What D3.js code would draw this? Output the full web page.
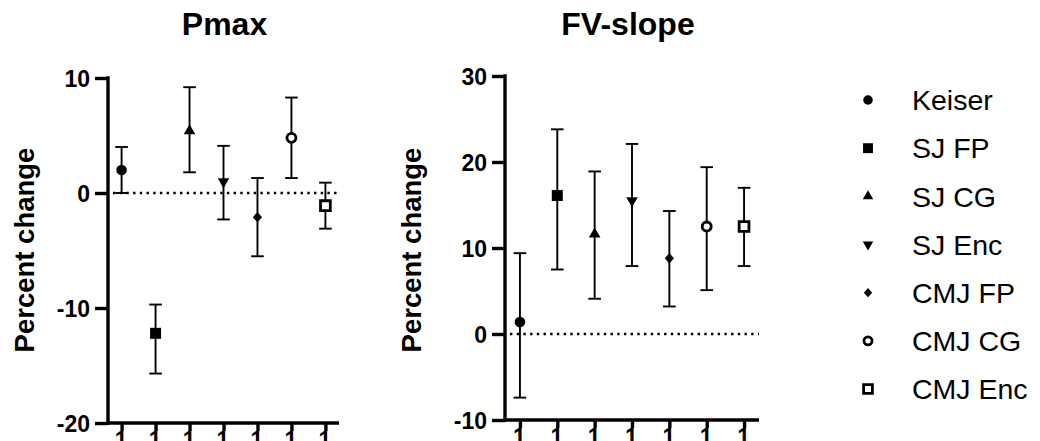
<!DOCTYPE html>
<html>
<head>
<meta charset="utf-8">
<script src="https://cdn.jsdelivr.net/npm/d3@7"></script>
<style>
html,body{margin:0;padding:0;background:#fff;}
svg{display:block;}
text{font-family:"Liberation Sans",Arial,Helvetica,sans-serif;fill:#000;}
</style>
</head>
<body>
<svg id="chart" width="1040" height="441"></svg>
<script>
// ---- data ----
const categories = ["Keiser","SJ FP","SJ CG","SJ Enc","CMJ FP","CMJ CG","CMJ Enc"];
const xTickLabels = ["1","1","1","1","1","1","1"];
const pmaxMean = [2.0, -12.2, 5.4, 1.0, -2.1, 4.8, -1.1];
const pmaxLow  = [0.0, -15.7, 1.8, -2.3, -5.5, 1.3, -3.1];
const pmaxHigh = [4.0, -9.7, 9.2, 4.1, 1.3, 8.3, 0.9];
const fvMean = [1.4, 16.1, 11.6, 15.5, 8.8, 12.5, 12.5];
const fvLow  = [-7.4, 7.5, 4.1, 7.9, 3.2, 5.1, 7.9];
const fvHigh = [9.4, 23.8, 18.9, 22.1, 14.3, 19.4, 17.0];
const pmaxTicks = [-20, -10, 0, 10];
const fvTicks = [-10, 0, 10, 20, 30];
const titles = ["Pmax", "FV-slope"];
const yLabel = "Percent change";
const markerTypes = ["circle","square","triUp","triDown","diamond","openCircle","openSquare"];

const svg = d3.select("#chart");

function markerPath(type, s) {
  const p = d3.path();
  switch (type) {
    case "circle": case "openCircle": {
      const r = type === "circle" ? 5.3*s : 4.5*s;
      p.arc(0, 0, r, 0, 2*Math.PI); break;
    }
    case "square": { const h = 5.5*s; p.rect(-h, -h, 2*h, 2*h); break; }
    case "openSquare": { const h = 4.9*s; p.rect(-h, -h, 2*h, 2*h); break; }
    case "triUp": { const w = 5.8*s, h = 10*s;
      p.moveTo(0, -h*2/3); p.lineTo(w, h/3); p.lineTo(-w, h/3); p.closePath(); break; }
    case "triDown": { const w = 5.8*s, h = 10*s;
      p.moveTo(0, h*2/3); p.lineTo(w, -h/3); p.lineTo(-w, -h/3); p.closePath(); break; }
    case "diamond": { const w = 4.6*s, h = 5.2*s;
      p.moveTo(0, -h); p.lineTo(w, 0); p.lineTo(0, h); p.lineTo(-w, 0); p.closePath(); break; }
  }
  return p.toString();
}
function drawMarker(g, type, x, y, s) {
  const open = type.startsWith("open");
  g.append("path")
    .attr("d", markerPath(type, s))
    .attr("transform", `translate(${x},${y})`)
    .attr("fill", open ? "#fff" : "#000")
    .attr("stroke", "#000")
    .attr("stroke-width", open ? 2.8 : 0);
}

function panel(cfg) {
  const g = svg.append("g");
  const x = d3.scalePoint().domain(categories).range([cfg.x0, cfg.x1]).padding(0.4);
  const y = d3.scaleLinear().domain(cfg.domain).range([cfg.yBottom, cfg.yTop]);

  // zero dotted line
  g.append("line")
    .attr("x1", cfg.x0 + 5).attr("x2", cfg.x1)
    .attr("y1", y(0)).attr("y2", y(0))
    .attr("stroke", "#000").attr("stroke-width", 2.6)
    .attr("stroke-dasharray", "2.4,4.3");

  // error bars
  const capW = 6.3;
  categories.forEach((c, i) => {
    const cx = x(c);
    g.append("line").attr("x1", cx).attr("x2", cx)
      .attr("y1", y(cfg.low[i])).attr("y2", y(cfg.high[i]))
      .attr("stroke", "#000").attr("stroke-width", 1.9);
    [cfg.low[i], cfg.high[i]].forEach(v => {
      g.append("line").attr("x1", cx - capW).attr("x2", cx + capW)
        .attr("y1", y(v)).attr("y2", y(v))
        .attr("stroke", "#000").attr("stroke-width", 1.9);
    });
  });
  categories.forEach((c, i) => drawMarker(g, markerTypes[i], x(c), y(cfg.mean[i]), 1));

  // axes
  const ya = g.append("g").attr("transform", `translate(${cfg.x0},0)`)
    .call(d3.axisLeft(y).tickValues(cfg.ticks).tickFormat(d => String(d))
      .tickSize(13).tickPadding(5).tickSizeOuter(0));
  ya.select(".domain").attr("stroke-width", 3.4).attr("d", `M0,${cfg.yBottom + 1.7}V${cfg.yTop - 1.7}`);
  ya.selectAll(".tick line").attr("stroke-width", 3.4);
  ya.selectAll(".tick text").style("font-size", "23px").style("font-weight", "bold")
    .style("font-family", "'Liberation Sans',Arial,sans-serif").attr("dy", "0.36em");

  const xa = g.append("g").attr("transform", `translate(0,${cfg.yBottom})`)
    .call(d3.axisBottom(x).tickFormat((d, i) => xTickLabels[i]).tickSize(8).tickPadding(0).tickSizeOuter(0));
  xa.select(".domain").attr("stroke-width", 3.4).attr("d", `M${cfg.x0 - 1.7},0H${cfg.x1}`);
  xa.selectAll(".tick line").attr("stroke-width", 3.4);
  xa.selectAll(".tick text").style("font-size", "23px").style("font-weight", "bold")
    .style("font-family", "'Liberation Sans',Arial,sans-serif")
    .attr("dy", "0.74em").attr("dx", "-1");

  // title
  g.append("text").attr("x", cfg.titleX).attr("y", 35).attr("text-anchor", "middle")
    .style("font-size", "32px").style("font-weight", "bold").text(cfg.title);
  // y label
  g.append("text")
    .attr("transform", `translate(${cfg.labelX},${cfg.labelY}) rotate(-90)`)
    .attr("text-anchor", "middle")
    .style("font-size", "27.5px").style("font-weight", "bold").text(yLabel);
}

panel({x0: 108, x1: 339, yTop: 78, yBottom: 423, domain: [-20, 10], ticks: pmaxTicks,
       mean: pmaxMean, low: pmaxLow, high: pmaxHigh, title: titles[0], titleX: 224.5,
       labelX: 34, labelY: 250});
panel({x0: 505, x1: 759, yTop: 76, yBottom: 420, domain: [-10, 30], ticks: fvTicks,
       mean: fvMean, low: fvLow, high: fvHigh, title: titles[1], titleX: 628,
       labelX: 421, labelY: 250});

// legend
const legend = svg.append("g");
const legY = d3.scalePoint().domain(categories).range([100, 389]);
categories.forEach((c, i) => {
  drawMarker(legend, markerTypes[i], 868, legY(c), 0.9);
  legend.append("text").attr("x", 912).attr("y", legY(c)).attr("dy", "0.36em")
    .style("font-size", "28.5px").text(c);
});
</script>
</body>
</html>
